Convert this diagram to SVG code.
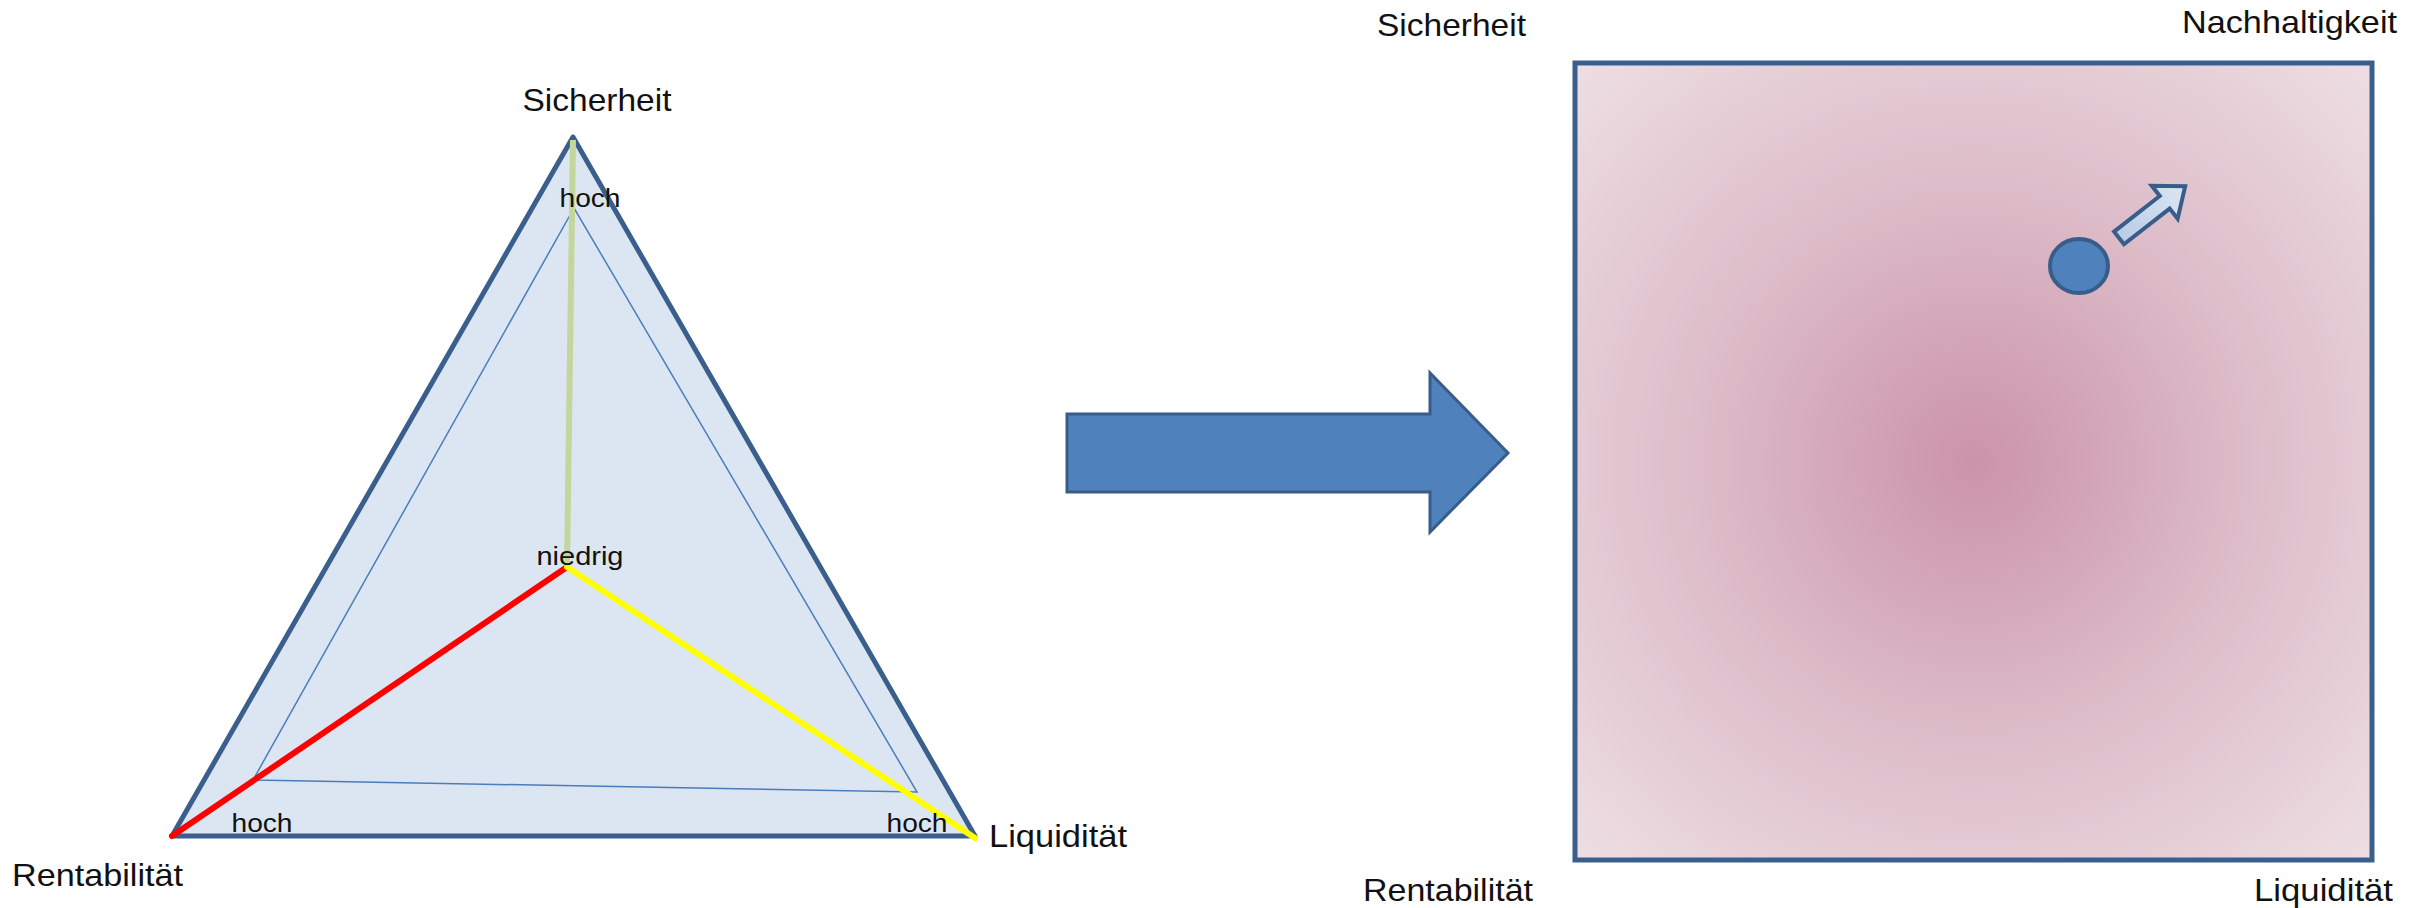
<svg xmlns="http://www.w3.org/2000/svg" width="2430" height="908" viewBox="0 0 2430 908">
<defs>
<style>
text{font-family:"Liberation Sans",Arial,sans-serif;fill:#111;}
.big{font-size:32px;}
.small{font-size:26px;}
.dark{stroke:#385d8a;}
</style>
<radialGradient id="rg" cx="0.5" cy="0.5" r="0.72" fx="0.5" fy="0.5">
<stop offset="0" stop-color="#cb93a9"/>
<stop offset="0.45" stop-color="#dbbac6"/>
<stop offset="1" stop-color="#eee0e5"/>
</radialGradient>
<linearGradient id="ag" x1="0" y1="0" x2="1" y2="0">
<stop offset="0" stop-color="#b9cde5"/>
<stop offset="1" stop-color="#dce6f2"/>
</linearGradient>
</defs>
<rect width="2430" height="908" fill="#ffffff"/>

<g id="triangle">
<polygon points="573,137 172,836 975,836" fill="#dce6f2" stroke="#3b5f8c" stroke-width="5" stroke-linejoin="round"/>
<polygon points="574,208 253,780 917,792" fill="none" stroke="#4a7ebb" stroke-width="1.5"/>
</g>

<g id="axes">
<line x1="573" y1="140" x2="567" y2="567" stroke="#c3d69b" stroke-width="6"/>
<line x1="567" y1="567" x2="172" y2="836" stroke="#ff0000" stroke-width="6" stroke-linecap="round"/>
<line x1="567" y1="567" x2="975" y2="838" stroke="#ffff00" stroke-width="6" stroke-linecap="round"/>
</g>

<g id="triangle-labels">
<text class="big" x="597" y="111" text-anchor="middle" textLength="149" lengthAdjust="spacingAndGlyphs">Sicherheit</text>
<text class="small" x="590" y="207" text-anchor="middle" textLength="61" lengthAdjust="spacingAndGlyphs">hoch</text>
<text class="small" x="580" y="565" text-anchor="middle" textLength="87" lengthAdjust="spacingAndGlyphs">niedrig</text>
<text class="small" x="262" y="832" text-anchor="middle" textLength="61" lengthAdjust="spacingAndGlyphs">hoch</text>
<text class="small" x="917" y="832" text-anchor="middle" textLength="61" lengthAdjust="spacingAndGlyphs">hoch</text>
<text class="big" x="12" y="886" textLength="171" lengthAdjust="spacingAndGlyphs">Rentabilität</text>
<text class="big" x="989" y="847" textLength="138" lengthAdjust="spacingAndGlyphs">Liquidität</text>
</g>

<g id="big-arrow">
<polygon points="1067,414 1430,414 1430,373 1508,453 1430,532 1430,492 1067,492" fill="#4f81bd" stroke="#385d8a" stroke-width="3"/>
</g>

<g id="square">
<rect x="1575" y="63" width="797" height="797" fill="url(#rg)" stroke="#3b5f8c" stroke-width="5"/>
</g>

<g id="point">
<ellipse cx="2079" cy="266" rx="29" ry="27" fill="#4f81bd" stroke="#385d8a" stroke-width="4"/>
</g>

<g id="small-arrow">
<polygon transform="translate(2119,238) rotate(-38)" points="0,-8 58,-8 58,-21 84,0 58,21 58,8 0,8" fill="url(#ag)" stroke="#385d8a" stroke-width="4"/>
</g>

<g id="square-labels">
<text class="big" x="1377" y="36" textLength="149" lengthAdjust="spacingAndGlyphs">Sicherheit</text>
<text class="big" x="2182" y="33" textLength="215" lengthAdjust="spacingAndGlyphs">Nachhaltigkeit</text>
<text class="big" x="1363" y="901" textLength="170" lengthAdjust="spacingAndGlyphs">Rentabilität</text>
<text class="big" x="2254" y="901" textLength="139" lengthAdjust="spacingAndGlyphs">Liquidität</text>
</g>
</svg>
